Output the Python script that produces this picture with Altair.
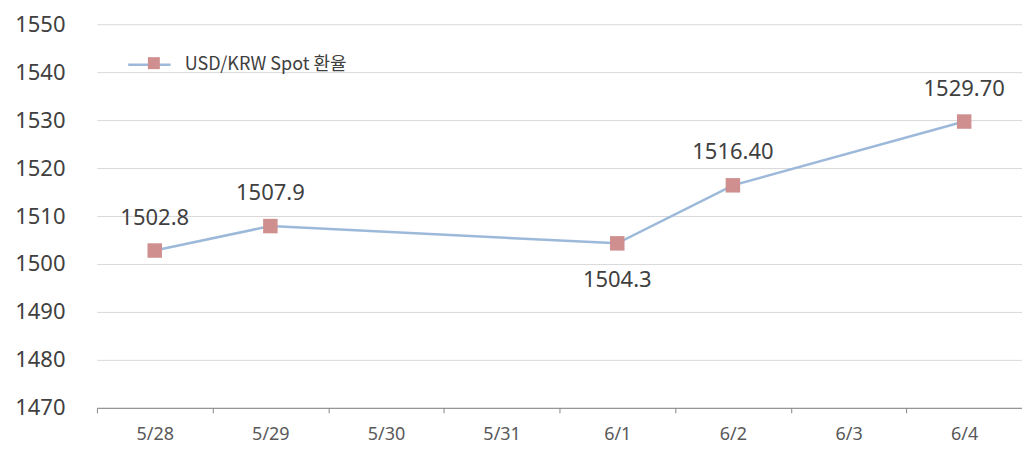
import altair as alt
import pandas as pd

dates_all = ["5/28", "5/29", "5/30", "5/31", "6/1", "6/2", "6/3", "6/4"]
dates = ["5/28", "5/29", "6/1", "6/2", "6/4"]
values = [1502.8, 1507.9, 1504.3, 1516.4, 1529.7]
labels = ["1502.8", "1507.9", "1504.3", "1516.40", "1529.70"]
label_pos = ["above", "above", "below", "above", "above"]
series_name = "USD/KRW Spot 환율"
y_ticks = [1470, 1480, 1490, 1500, 1510, 1520, 1530, 1540, 1550]

df = pd.DataFrame({
    "date": dates,
    "value": values,
    "label": labels,
    "pos": label_pos,
    "series": [series_name] * len(dates),
})

LINE_C = "#9db9da"
MARK_C = "#cf8f8f"
FONT = "Noto Sans"

x = alt.X(
    "date:O",
    sort=dates_all,
    scale=alt.Scale(type="band", domain=dates_all, paddingInner=0, paddingOuter=0),
    axis=alt.Axis(
        title=None, tickBand="extent", labelAngle=0, labelFontSize=18, labelFont=FONT,
        labelColor="#595959", labelPadding=13, domainColor="#868686", tickColor="#868686",
        tickSize=5, grid=False,
    ),
)
y = alt.Y(
    "value:Q",
    scale=alt.Scale(domain=[1470, 1550], nice=False, zero=False),
    axis=alt.Axis(
        title=None, values=y_ticks, format="d", labelFontSize=22, labelFont=FONT,
        labelColor="#404040", labelPadding=32, domain=False, ticks=False,
        gridColor="#d9d9d9", gridWidth=1,
    ),
)

base = alt.Chart(df)

line = base.mark_line(strokeWidth=2.5).encode(
    x=x, y=y,
    stroke=alt.Stroke(
        "series:N",
        scale=alt.Scale(domain=[series_name], range=[LINE_C]),
        legend=alt.Legend(
            title=None, orient="none", legendX=30, legendY=18, symbolType="stroke",
            symbolSize=1800, symbolStrokeWidth=2.5, labelFontSize=18, labelLimit=400,
            labelFont="Noto Sans CJK KR", labelColor="#404040", labelOffset=13, padding=0,
        ),
    ),
)

points = base.mark_point(shape="square", filled=True, size=210, opacity=1).encode(
    x=x, y=y,
    fill=alt.Fill(
        "series:N",
        scale=alt.Scale(domain=[series_name], range=[MARK_C]),
        legend=alt.Legend(
            title=None, orient="none", legendX=49, legendY=31, symbolType="square",
            symbolSize=144, symbolStrokeWidth=0, labelExpr="''", labelFontSize=16, padding=0,
        ),
    ),
)

text_above = base.transform_filter(alt.datum.pos == "above").mark_text(
    dy=-33, fontSize=22, font=FONT, color="#404040"
).encode(x=x, y=y, text="label:N")

text_below = base.transform_filter(alt.datum.pos == "below").mark_text(
    dy=37, fontSize=22, font=FONT, color="#404040"
).encode(x=x, y=y, text="label:N")

chart = alt.layer(line, points, text_above, text_below).resolve_scale(
    stroke="independent", fill="independent"
).properties(
    width=926, height=384,
    autosize="none",
    padding={"left": 89, "top": 16, "right": 0, "bottom": 40},
    background="white",
).configure_view(stroke=None)

chart.save("out.html", embed_options={"renderer": "svg", "actions": False})
